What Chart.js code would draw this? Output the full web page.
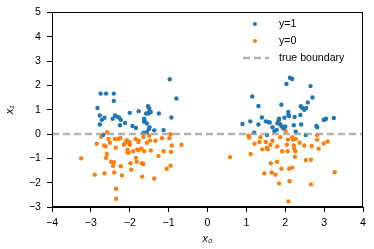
<!DOCTYPE html>
<html><head><meta charset="utf-8">
<script src="https://cdn.jsdelivr.net/npm/chart.js@4/dist/chart.umd.min.js"></script>
<style>html,body{margin:0;padding:0;background:#fff}#wrap{width:374px;height:249px}</style>
</head><body><div id="wrap"><canvas id="c" width="374" height="249"></canvas></div>
<script>
const pos_x0 = [-2.75,-2.61,-2.41,-2.41,-2.83,-2.77,-2.72,-2.77,-2.65,-2.68,-2.44,-2.38,-2.32,-2.27,-2.23,-2.25,-2.12,-2.0,-1.93,-1.84,-1.77,-1.63,-1.63,-1.62,-1.65,-1.56,-1.58,-1.53,-1.5,-1.49,-1.51,-1.46,-1.51,-1.49,-1.56,-1.37,-1.25,-1.13,-0.97,-0.93,-0.8,
0.9,1.1,1.15,1.2,1.31,1.31,1.4,1.5,1.57,1.6,1.53,1.67,1.72,1.78,1.8,1.84,1.83,1.9,1.87,1.93,1.9,1.98,2.03,2.08,2.08,2.1,2.12,2.18,2.24,2.22,2.27,2.0,1.96,2.39,2.4,2.44,2.49,2.54,2.58,2.65,2.7,2.41,2.53,2.8,2.82,2.99,3.02,3.05,3.25];
const pos_x1 = [1.66,1.66,1.66,1.36,1.07,0.76,0.58,0.39,0.67,-0.03,0.63,0.76,0.71,0.67,0.58,0.36,0.45,0.87,0.33,0.25,0.94,0.63,0.5,0.57,0.04,0.43,0.84,1.14,1.06,0.94,0.84,0.9,0.2,0.28,0.07,0.15,0.84,0.16,2.25,0.68,1.46,
0.41,0.52,1.54,0.05,1.15,0.39,0.68,0.52,0.49,0.47,-0.04,0.28,0.12,0.17,0.44,0.63,0.57,1.2,0.4,0.27,0.33,0.67,2.06,0.91,0.79,0.74,2.31,2.26,0.7,0.36,0.09,0.31,0.23,0.78,1.14,1.07,1.0,1.07,1.3,1.97,1.5,0.39,-0.04,0.33,0.28,0.58,0.6,0.63,0.66];
const neg_x0 = [-3.25,-2.9,-2.85,-2.73,-2.66,-2.62,-2.59,-2.61,-2.65,-2.58,-2.55,-2.51,-2.48,-2.43,-2.41,-2.4,-2.38,-2.36,-2.35,-2.35,-2.29,-2.24,-2.23,-2.2,-2.15,-2.11,-2.08,-2.06,-2.06,-2.03,-2.01,-2.0,-1.98,-1.96,-1.91,-1.84,-1.82,-1.85,-1.78,-1.78,-1.8,-1.77,-1.7,-1.69,-1.65,-1.68,-1.63,-1.65,-1.56,-1.5,-1.48,-1.46,-1.37,-1.34,-1.26,-1.17,-1.13,-1.05,-0.95,-0.98,-0.95,-0.92,-0.94,-0.67,
0.58,1.05,1.07,1.11,1.21,1.36,1.34,1.41,1.46,1.5,1.53,1.55,1.62,1.63,1.65,1.67,1.75,1.79,1.79,1.84,1.87,1.9,1.92,2.01,2.04,2.07,2.1,2.11,2.08,2.06,2.18,2.18,2.2,2.22,2.23,2.25,2.26,2.27,2.37,2.49,2.53,2.66,2.66,2.68,2.82,2.82,2.86,2.99,3.09,3.27];
const neg_x1 = [-1.0,-1.67,-0.4,-0.11,-0.47,-0.51,-0.82,-0.98,-1.62,0.07,-0.2,-0.36,-1.14,-1.31,-1.16,-1.58,-0.2,-0.56,-2.25,-2.66,-0.2,-0.16,-1.32,-1.7,-0.44,-0.36,-0.25,-0.64,-0.76,-0.76,-0.33,-0.44,-1.2,-1.47,-0.71,-0.98,-1.14,-0.2,-0.67,-0.33,-0.63,-0.27,-0.6,-1.2,-1.23,-1.75,-0.71,-0.12,-0.36,-0.07,-0.27,-0.68,-1.83,-0.28,-0.9,-0.17,-0.71,-1.43,-1.3,-0.17,-0.01,-0.47,-0.74,-0.44,
-0.95,-0.07,-0.15,-0.82,-0.4,-0.13,-0.33,-0.63,-1.62,-0.33,-0.56,-0.63,-0.44,-1.2,-1.58,-0.28,-1.67,-0.51,-1.14,-2.03,-0.13,-1.43,-0.71,0.12,-0.44,-0.23,-1.43,-1.94,-2.77,-0.71,-1.38,-0.13,-0.23,-0.47,-0.6,-0.94,-0.71,-0.2,-0.36,-0.47,-1.07,-1.06,-2.07,-0.49,-0.04,-0.23,-0.6,-0.39,-0.31,-1.57];
const boundary_x0 = [-4, 4];
const boundary_x1 = [0, 0];
const xTicks = [-4,-3,-2,-1,0,1,2,3,4];
const yTicks = [-3,-2,-1,0,1,2,3,4,5];
const labels = ['y=1','y=0','true boundary'];

const BLUE='#1f77b4', ORANGE='#ff7f0e', GRAY='rgba(160,160,160,0.8)';
const FONT = "'Liberation Sans', Arial, sans-serif";
const FS = 10.6;
const zip=(a,b)=>a.map((v,i)=>({x:v,y:b[i]}));
const minus = v => String(v).replace('-', '\u2212');

const frameAndLegend = {
  id:'frameAndLegend',
  afterDraw(chart){
    const ctx=chart.ctx, a=chart.chartArea;
    ctx.save();
    ctx.strokeStyle='#000'; ctx.lineWidth=1;
    ctx.strokeRect(Math.round(a.left)+0.5, Math.round(a.top)+0.5, Math.round(a.right-a.left)-1, Math.round(a.bottom-a.top)-1);
    ctx.font = FS + "px " + FONT;
    ctx.textBaseline='middle'; ctx.textAlign='left';
    const lx = 255, tx = 279;
    const rows=[24,41,58];
    ctx.beginPath(); ctx.fillStyle=BLUE; ctx.arc(lx,rows[0],2,0,Math.PI*2); ctx.fill();
    ctx.beginPath(); ctx.fillStyle=ORANGE; ctx.arc(lx,rows[1],2,0,Math.PI*2); ctx.fill();
    ctx.beginPath(); ctx.strokeStyle=GRAY; ctx.lineWidth=2.5; ctx.setLineDash([7,4]);
    ctx.moveTo(243,rows[2]); ctx.lineTo(269,rows[2]); ctx.stroke(); ctx.setLineDash([]);
    ctx.fillStyle='#000';
    labels.forEach((t,i)=>ctx.fillText(t,tx,rows[i]+0.5));
    ctx.restore();
  }
};

new Chart(document.getElementById('c'), {
  type:'scatter',
  data:{datasets:[
    {label:labels[2], type:'line', data:zip(boundary_x0,boundary_x1), borderColor:GRAY, borderWidth:2.5, borderDash:[7,4], pointRadius:0, fill:false, order:0},
    {label:labels[0], data:zip(pos_x0,pos_x1), backgroundColor:BLUE, borderWidth:0, pointRadius:2.2, order:1},
    {label:labels[1], data:zip(neg_x0,neg_x1), backgroundColor:ORANGE, borderWidth:0, pointRadius:2.2, order:1}
  ]},
  options:{
    responsive:false, animation:false, devicePixelRatio:1,
    layout:{padding:{top:7,right:11,left:0,bottom:0}},
    plugins:{legend:{display:false}, tooltip:{enabled:false}},
    scales:{
      x:{type:'linear', min:-4, max:4,
        afterBuildTicks:s=>{s.ticks=xTicks.map(v=>({value:v}));},
        afterFit:s=>{s.height=42;},
        ticks:{color:'#000', font:{family:FONT,size:FS}, padding:5, maxRotation:0, callback:minus},
        grid:{drawOnChartArea:false, tickLength:5, tickColor:'#000', tickWidth:1},
        border:{color:'#000', width:1},
        title:{display:true, text:'x\u2080', color:'#000', font:{family:FONT,size:FS,style:'italic'}, padding:{top:4,bottom:4}}
      },
      y:{type:'linear', min:-3, max:5,
        afterBuildTicks:s=>{s.ticks=yTicks.map(v=>({value:v}));},
        afterFit:s=>{s.width=52;},
        ticks:{color:'#000', font:{family:FONT,size:FS}, padding:6, callback:minus},
        grid:{drawOnChartArea:false, tickLength:5, tickColor:'#000', tickWidth:1},
        border:{color:'#000', width:1},
        title:{display:true, text:'x\u2081', color:'#000', font:{family:FONT,size:FS,style:'italic'}, padding:{top:4,bottom:4}}
      }
    }
  },
  plugins:[frameAndLegend]
});
</script></body></html>
